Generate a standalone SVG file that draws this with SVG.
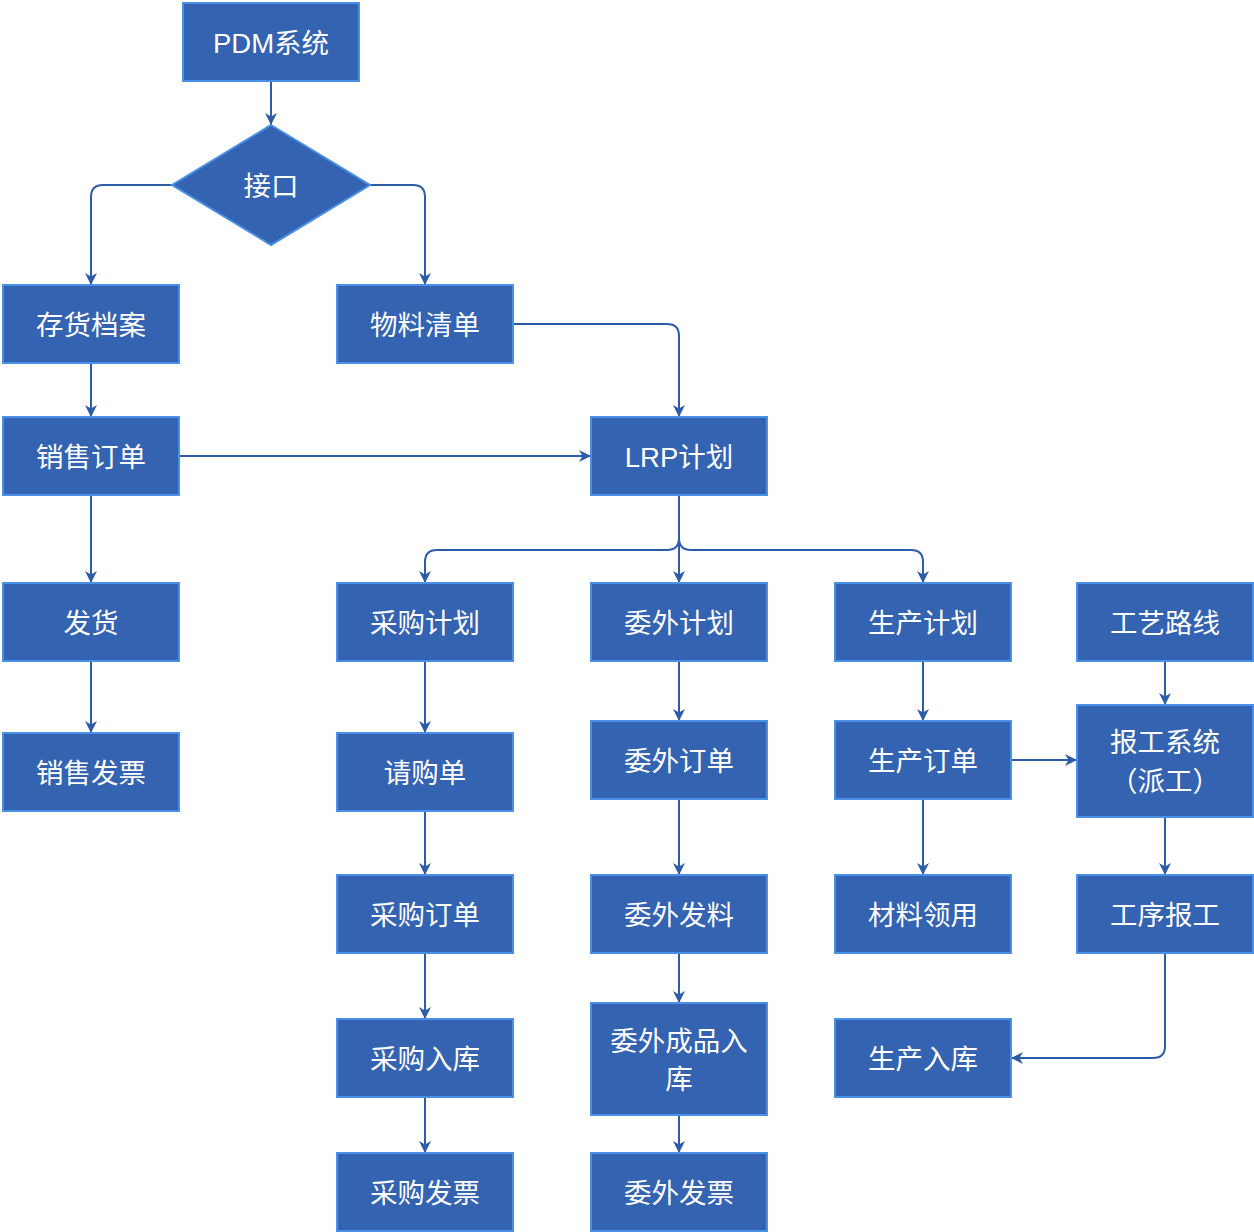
<svg xmlns="http://www.w3.org/2000/svg" width="1254" height="1232" viewBox="0 0 1254 1232">
<style>
.n{fill:#3363B1;stroke:#4A8FE8;stroke-width:2}
.t{fill:#fff;font-family:"Liberation Sans","Noto Sans CJK SC",sans-serif;font-size:27.5px;text-anchor:middle;dominant-baseline:central}
.c{fill:none;stroke:#2D5DA8;stroke-width:2;marker-end:url(#a)}
</style>
<defs>
<marker id="a" markerUnits="userSpaceOnUse" markerWidth="14" markerHeight="14" refX="12" refY="6" orient="auto">
<path d="M0,0 L12,6 L0,12 L3.5,6 Z" fill="#2D5DA8"/>
</marker>
</defs>
<rect width="1254" height="1232" fill="#fff"/>
<g id="connectors">
<path class="c" d="M271,81 V125"/>
<path class="c" d="M172,185 H103 Q91,185 91,197 V285"/>
<path class="c" d="M370,185 H413 Q425,185 425,197 V285"/>
<path class="c" d="M513,324 H667 Q679,324 679,336 V417"/>
<path class="c" d="M91,363 V417"/>
<path class="c" d="M179,456 H591"/>
<path class="c" d="M91,495 V583"/>
<path class="c" d="M91,661 V733"/>
<path class="c" d="M679,495 V538 Q679,550 667,550 H437 Q425,550 425,562 V583"/>
<path class="c" d="M679,538 Q679,550 691,550 H911 Q923,550 923,562 V583"/>
<path class="c" d="M679,495 V583"/>
<path class="c" d="M425,661 V733"/>
<path class="c" d="M425,811 V875"/>
<path class="c" d="M425,953 V1019"/>
<path class="c" d="M425,1097 V1153"/>
<path class="c" d="M679,661 V721"/>
<path class="c" d="M679,799 V875"/>
<path class="c" d="M679,953 V1003"/>
<path class="c" d="M679,1115 V1153"/>
<path class="c" d="M923,661 V721"/>
<path class="c" d="M923,799 V875"/>
<path class="c" d="M1011,760 H1077"/>
<path class="c" d="M1165,661 V705"/>
<path class="c" d="M1165,817 V875"/>
<path class="c" d="M1165,953 V1046 Q1165,1058 1153,1058 H1011"/>
</g>
<g id="pdm"><rect class="n" x="183" y="3" width="176" height="78"/><text class="t" x="271" y="43">PDM系统</text></g>
<g id="jiekou"><path class="n" d="M271,125 L370,185 L271,245 L172,185 Z"/><text class="t" x="271" y="186">接口</text></g>
<g id="chdaan"><rect class="n" x="3" y="285" width="176" height="78"/><text class="t" x="91" y="325">存货档案</text></g>
<g id="wlqd"><rect class="n" x="337" y="285" width="176" height="78"/><text class="t" x="425" y="325">物料清单</text></g>
<g id="xsdd"><rect class="n" x="3" y="417" width="176" height="78"/><text class="t" x="91" y="457">销售订单</text></g>
<g id="lrp"><rect class="n" x="591" y="417" width="176" height="78"/><text class="t" x="679" y="457">LRP计划</text></g>
<g id="fh"><rect class="n" x="3" y="583" width="176" height="78"/><text class="t" x="91" y="623">发货</text></g>
<g id="xsfp"><rect class="n" x="3" y="733" width="176" height="78"/><text class="t" x="91" y="773">销售发票</text></g>
<g id="cgjh"><rect class="n" x="337" y="583" width="176" height="78"/><text class="t" x="425" y="623">采购计划</text></g>
<g id="wwjh"><rect class="n" x="591" y="583" width="176" height="78"/><text class="t" x="679" y="623">委外计划</text></g>
<g id="scjh"><rect class="n" x="835" y="583" width="176" height="78"/><text class="t" x="923" y="623">生产计划</text></g>
<g id="gylx"><rect class="n" x="1077" y="583" width="176" height="78"/><text class="t" x="1165" y="623">工艺路线</text></g>
<g id="qgd"><rect class="n" x="337" y="733" width="176" height="78"/><text class="t" x="425" y="773">请购单</text></g>
<g id="wwdd"><rect class="n" x="591" y="721" width="176" height="78"/><text class="t" x="679" y="761">委外订单</text></g>
<g id="scdd"><rect class="n" x="835" y="721" width="176" height="78"/><text class="t" x="923" y="761">生产订单</text></g>
<g id="bgxt"><rect class="n" x="1077" y="705" width="176" height="112"/><text class="t" x="1165" y="742">报工系统</text><text class="t" x="1165" y="781">（派工）</text></g>
<g id="cgdd"><rect class="n" x="337" y="875" width="176" height="78"/><text class="t" x="425" y="915">采购订单</text></g>
<g id="wwfl"><rect class="n" x="591" y="875" width="176" height="78"/><text class="t" x="679" y="915">委外发料</text></g>
<g id="clly"><rect class="n" x="835" y="875" width="176" height="78"/><text class="t" x="923" y="915">材料领用</text></g>
<g id="gxbg"><rect class="n" x="1077" y="875" width="176" height="78"/><text class="t" x="1165" y="915">工序报工</text></g>
<g id="cgrk"><rect class="n" x="337" y="1019" width="176" height="78"/><text class="t" x="425" y="1059">采购入库</text></g>
<g id="wwcprk"><rect class="n" x="591" y="1003" width="176" height="112"/><text class="t" x="679" y="1041">委外成品入</text><text class="t" x="679" y="1079">库</text></g>
<g id="scrk"><rect class="n" x="835" y="1019" width="176" height="78"/><text class="t" x="923" y="1059">生产入库</text></g>
<g id="cgfp"><rect class="n" x="337" y="1153" width="176" height="78"/><text class="t" x="425" y="1193">采购发票</text></g>
<g id="wwfp"><rect class="n" x="591" y="1153" width="176" height="78"/><text class="t" x="679" y="1193">委外发票</text></g>
</svg>
